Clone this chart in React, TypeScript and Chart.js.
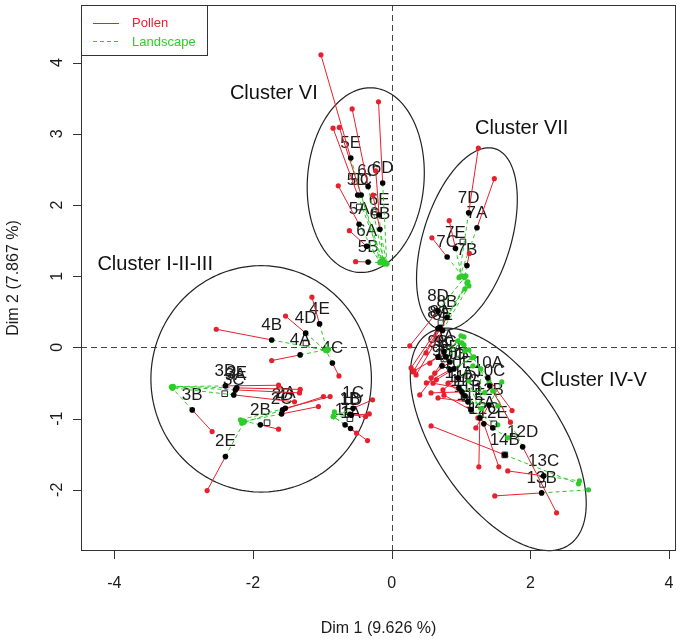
import { useEffect, useRef } from 'react';
import { Chart, registerables } from 'chart.js';

Chart.register(...registerables);

// ---------- data ----------
const individuals = [
  '1A', '1B', '1C', '1D', '1E',
  '2A', '2B', '2C', '2D', '2E',
  '3A', '3B', '3C', '3D', '3E',
  '4A', '4B', '4C', '4D', '4E',
  '5A', '5B', '5C', '5D', '5E',
  '6A', '6B', '6C', '6D', '6E',
  '7A', '7B', '7C', '7D', '7E',
  '8A', '8B', '8C', '8D', '8E',
  '9A', '9B', '9C', '9D', '9E',
  '10A', '10B', '10C', '10D', '10E',
  '11A', '11B', '11C', '11D', '11E',
  '12A', '12B', '12C', '12D', '12E',
  '13B', '13C', '14B',
];

const centroidX = [
  -0.593, -0.601, -0.557, -0.582, -0.672,
  -1.534, -1.894, -1.588, -1.573, -2.397,
  -2.253, -2.876, -2.277, -2.397, -2.234,
  -1.32, -1.73, -0.855, -1.24, -1.04,
  -0.47, -0.34, -0.44, -0.49, -0.59,
  -0.36, -0.17, -0.34, -0.13, -0.18,
  1.23, 1.085, 0.8, 1.11, 0.92,
  0.697, 0.797, 0.668, 0.668, 0.733,
  0.754, 0.668, 0.783, 0.841, 0.726,
  1.387, 0.898, 1.415, 0.841, 0.955,
  0.97, 1.099, 1.056, 1.013, 1.142,
  1.272, 1.401, 1.329, 1.889, 1.458,
  2.162, 2.191, 1.631,
];
const centroidY = [
  -1.14, -0.94, -0.854, -0.954, -1.088,
  -0.854, -1.088, -0.934, -0.878, -1.534,
  -0.597, -0.878, -0.667, -0.541, -0.569,
  -0.105, 0.105, -0.22, 0.2, 0.33,
  1.73, 1.2, 2.14, 2.14, 2.66,
  1.42, 1.66, 2.26, 2.31, 1.86,
  1.68, 1.15, 1.27, 1.89, 1.39,
  0.281, 0.421, 0.267, 0.513, 0.239,
  -0.063, -0.133, -0.133, -0.204, -0.26,
  -0.428, -0.302, -0.541, -0.316, -0.428,
  -0.569, -0.765, -0.681, -0.625, -0.878,
  -0.99, -0.808, -1.074, -1.397, -1.131,
  -2.044, -1.805, -1.51,
];

const pollenX = [
  -0.348, -0.376, -0.276, -0.323, -0.506,
  -0.888, -1.631, -1.056, -0.984, -2.661,
  -1.329, -2.589, -1.401, -1.631, -1.319,
  -1.73, -2.53, -0.76, -1.53, -1.15,
  -0.77, -0.52, -0.755, -0.845, -1.02,
  -0.61, -0.27, -0.57, -0.19, -0.23,
  1.48, 1.12, 0.58, 1.25, 0.83,
  0.309, 0.496, 0.28, 0.261, 0.352,
  0.549, 0.323, 0.568, 0.621, 0.405,
  1.736, 0.644, 1.713, 0.5, 0.74,
  0.596, 0.668, 0.812, 0.568, 0.754,
  1.257, 1.214, 1.545, 2.378, 1.243,
  1.487, 1.674, 0.568,
];
const pollenY = [
  -1.309, -0.972, -0.737, -0.934, -1.205,
  -0.691, -1.149, -0.831, -0.691, -2.011,
  -0.639, -1.183, -0.765, -0.531, -0.59,
  -0.185, 0.255, -0.4, 0.44, 0.705,
  2.27, 1.205, 3.09, 3.08, 4.11,
  1.64, 2.14, 3.35, 3.45, 2.48,
  2.37, 1.32, 1.54, 2.8, 1.78,
  -0.344, -0.077, -0.288, 0.021, -0.386,
  -0.222, -0.33, -0.428, -0.362, -0.667,
  -0.888, -0.456, -1.051, -0.499, -0.597,
  -0.503, -0.709, -0.503, -0.639, -0.671,
  -1.678, -1.131, -1.678, -2.324, -0.99,
  -2.086, -1.735, -1.103,
];

const landscapeX = [
  -0.841, -0.826, -0.841, -0.841, -0.841,
  -2.181, -2.158, -2.119, -2.162, -2.134,
  -3.177, -3.164, -3.154, -3.164, -3.149,
  -0.91, -0.93, -0.95, -0.95, -0.93,
  -0.17, -0.16, -0.125, -0.135, -0.165,
  -0.11, -0.07, -0.11, -0.07, -0.13,
  0.98, 1.05, 1.02, 0.97, 1.01,
  1.085, 1.099, 1.056, 1.07, 1.114,
  0.955, 1.013, 0.999, 1.056, 1.042,
  1.042, 1.157, 1.114, 1.185, 1.171,
  1.343, 1.53, 1.3, 1.458, 1.53,
  1.286, 1.588, 1.114, 1.401, 1.674,
  2.838, 2.708, 2.694,
];
const landscapeY = [
  -0.972, -0.906, -0.972, -0.972, -0.972,
  -1.018, -1.028, -1.037, -1.065, -1.056,
  -0.555, -0.573, -0.569, -0.551, -0.548,
  -0.025, -0.045, -0.04, -0.045, -0.045,
  1.19, 1.19, 1.19, 1.2, 1.205,
  1.2, 1.18, 1.17, 1.17, 1.24,
  0.99, 0.98, 1.0, 0.98, 1.0,
  0.906, 0.92, 0.822, 1.004, 0.864,
  0.091, 0.063, 0.162, -0.049, 0.147,
  0.035, -0.147, -0.035, -0.133, -0.26,
  -0.635, -0.822, -0.86, -0.611, -1.088,
  -0.302, -0.485, -0.471, -0.471, -1.271,
  -2.001, -1.875, -1.917,
];

// site means (open squares)
const siteMeanX = [-0.602, -1.797, -2.407, -1.236, -0.467, -0.237, 1.027, 0.711, 0.754, 1.099, 1.056, 1.473, 2.177, 1.631];
const siteMeanY = [-1.001, -1.058, -0.65, 0.063, 1.973, 1.903, 1.482, 0.344, -0.162, -0.4, -0.709, -1.074, -1.924, -1.51];

// cluster ellipses: centre, semi-axes, angle (degrees) in data units
const clusterNames = ['Cluster VI', 'Cluster VII', 'Cluster I-II-III', 'Cluster IV-V'];
const clusterCx = [-0.374, 1.085, -1.882, 1.537];
const clusterCy = [2.35, 1.524, -0.442, -1.292];
const clusterA = [1.3, 1.33, 1.59, 1.8];
const clusterB = [0.84, 0.63, 1.59, 0.9];
const clusterAngle = [85, 72, 0, -55];
const clusterLabelX = [-1.7, 1.875, -3.41, 2.91];
const clusterLabelY = [3.57, 3.08, 1.17, -0.47];

const xTicks = [-4, -2, 0, 2, 4];
const yTicks = [-2, -1, 0, 1, 2, 3, 4];
const xTitle = 'Dim 1 (9.626 %)';
const yTitle = 'Dim 2 (7.867 %)';
const legendLabels = ['Pollen', 'Landscape'];

// ---------- styles ----------
const RED = '#E8202E';
const GREEN = '#2ECC2A';
const FONT = '"Liberation Sans", Arial, Helvetica, sans-serif';
const TEXT = '#1a1a1a';

function segments(ax: number[], ay: number[], bx: number[], by: number[]) {
  const out: any[] = [];
  for (let i = 0; i < ax.length; i++) {
    out.push({ x: ax[i], y: ay[i] }, { x: bx[i], y: by[i] }, { x: null, y: null });
  }
  return out;
}
function pts(ax: number[], ay: number[]) {
  return ax.map((v, i) => ({ x: v, y: ay[i] }));
}

const decorPlugin = {
  id: 'decor',
  beforeDatasetsDraw(chart: any) {
    const { ctx, chartArea: a, scales } = chart;
    const xs = scales.x;
    const ys = scales.y;
    ctx.save();
    // zero lines
    ctx.strokeStyle = '#444';
    ctx.lineWidth = 1;
    ctx.setLineDash([6, 4]);
    const x0 = Math.round(xs.getPixelForValue(0)) + 0.5;
    const y0 = Math.round(ys.getPixelForValue(0)) + 0.5;
    ctx.beginPath();
    ctx.moveTo(x0, a.top);
    ctx.lineTo(x0, a.bottom);
    ctx.moveTo(a.left, y0);
    ctx.lineTo(a.right, y0);
    ctx.stroke();
    ctx.setLineDash([]);

    // ellipses
    ctx.strokeStyle = '#222';
    ctx.lineWidth = 1.2;
    for (let k = 0; k < clusterCx.length; k++) {
      const phi = (clusterAngle[k] * Math.PI) / 180;
      ctx.beginPath();
      for (let s = 0; s <= 180; s++) {
        const t = (s / 180) * Math.PI * 2;
        const ex = clusterCx[k] + clusterA[k] * Math.cos(t) * Math.cos(phi) - clusterB[k] * Math.sin(t) * Math.sin(phi);
        const ey = clusterCy[k] + clusterA[k] * Math.cos(t) * Math.sin(phi) + clusterB[k] * Math.sin(t) * Math.cos(phi);
        const px = xs.getPixelForValue(ex);
        const py = ys.getPixelForValue(ey);
        if (s === 0) ctx.moveTo(px, py);
        else ctx.lineTo(px, py);
      }
      ctx.closePath();
      ctx.stroke();
    }

    // cluster labels
    ctx.fillStyle = '#111';
    ctx.font = `20px ${FONT}`;
    ctx.textAlign = 'center';
    ctx.textBaseline = 'middle';
    for (let k = 0; k < clusterNames.length; k++) {
      ctx.fillText(clusterNames[k], xs.getPixelForValue(clusterLabelX[k]), ys.getPixelForValue(clusterLabelY[k]));
    }

    // individual labels
    ctx.fillStyle = TEXT;
    ctx.font = `17px ${FONT}`;
    for (let i = 0; i < individuals.length; i++) {
      ctx.fillText(individuals[i], xs.getPixelForValue(centroidX[i]), ys.getPixelForValue(centroidY[i]) - 15);
    }
    ctx.restore();
  },
  afterDraw(chart: any) {
    const { ctx, chartArea: a, scales } = chart;
    const xs = scales.x;
    const ys = scales.y;
    ctx.save();
    ctx.strokeStyle = '#333';
    ctx.lineWidth = 1;
    ctx.strokeRect(a.left + 0.5, a.top + 0.5, a.right - a.left - 1, a.bottom - a.top - 1);

    // ticks
    ctx.beginPath();
    xTicks.forEach((v) => {
      const px = Math.round(xs.getPixelForValue(v)) + 0.5;
      ctx.moveTo(px, a.bottom);
      ctx.lineTo(px, a.bottom + 8);
    });
    yTicks.forEach((v) => {
      const py = Math.round(ys.getPixelForValue(v)) + 0.5;
      ctx.moveTo(a.left, py);
      ctx.lineTo(a.left - 8, py);
    });
    ctx.stroke();

    ctx.fillStyle = TEXT;
    ctx.font = `16px ${FONT}`;
    ctx.textAlign = 'center';
    ctx.textBaseline = 'middle';
    xTicks.forEach((v) => {
      ctx.fillText(String(v), xs.getPixelForValue(v), a.bottom + 33);
    });
    yTicks.forEach((v) => {
      ctx.save();
      ctx.translate(a.left - 23, ys.getPixelForValue(v));
      ctx.rotate(-Math.PI / 2);
      ctx.fillText(String(v), 0, 0);
      ctx.restore();
    });
    ctx.fillText(xTitle, (a.left + a.right) / 2, 629);
    ctx.save();
    ctx.translate(14, (a.top + a.bottom) / 2);
    ctx.rotate(-Math.PI / 2);
    ctx.fillText(yTitle, 0, 0);
    ctx.restore();

    // legend
    const lx = a.left;
    const ly = a.top;
    ctx.fillStyle = '#fff';
    ctx.fillRect(lx + 0.5, ly + 0.5, 126, 50);
    ctx.strokeStyle = '#333';
    ctx.strokeRect(lx + 0.5, ly + 0.5, 126, 50);
    ctx.lineWidth = 1;
    ctx.strokeStyle = RED;
    ctx.beginPath();
    ctx.moveTo(lx + 12, ly + 18.5);
    ctx.lineTo(lx + 38, ly + 18.5);
    ctx.stroke();
    ctx.strokeStyle = GREEN;
    ctx.setLineDash([4, 3]);
    ctx.beginPath();
    ctx.moveTo(lx + 12, ly + 36.5);
    ctx.lineTo(lx + 38, ly + 36.5);
    ctx.stroke();
    ctx.setLineDash([]);
    ctx.font = `13px ${FONT}`;
    ctx.textAlign = 'left';
    ctx.fillStyle = RED;
    ctx.fillText(legendLabels[0], lx + 51, ly + 18);
    ctx.fillStyle = GREEN;
    ctx.fillText(legendLabels[1], lx + 51, ly + 37);
    ctx.restore();
  },
};

export default function App() {
  const ref = useRef<HTMLCanvasElement>(null);
  useEffect(() => {
    if (!ref.current) return;
    const chart = new Chart(ref.current, {
      type: 'scatter',
      data: {
        datasets: [
          {
            label: 'Individuals',
            data: pts(centroidX, centroidY),
            pointRadius: 2.8,
            pointBackgroundColor: '#000',
            pointBorderWidth: 0,
            showLine: false,
          },
          {
            label: 'Sites',
            data: pts(siteMeanX, siteMeanY),
            pointStyle: 'rect',
            pointRadius: 4,
            pointBackgroundColor: 'rgba(0,0,0,0)',
            pointBorderColor: '#222',
            pointBorderWidth: 1,
            showLine: false,
          },
          {
            label: legendLabels[0] + ' points',
            data: pts(pollenX, pollenY),
            pointRadius: 2.6,
            pointBackgroundColor: RED,
            pointBorderWidth: 0,
            showLine: false,
          },
          {
            label: legendLabels[1] + ' points',
            data: pts(landscapeX, landscapeY),
            pointRadius: 2.6,
            pointBackgroundColor: GREEN,
            pointBorderWidth: 0,
            showLine: false,
          },
          {
            label: legendLabels[0],
            data: segments(centroidX, centroidY, pollenX, pollenY),
            showLine: true,
            spanGaps: false,
            borderColor: RED,
            borderWidth: 1,
            pointRadius: 0,
          },
          {
            label: legendLabels[1],
            data: segments(centroidX, centroidY, landscapeX, landscapeY),
            showLine: true,
            spanGaps: false,
            borderColor: GREEN,
            borderWidth: 1,
            borderDash: [4, 3],
            pointRadius: 0,
          },
        ],
      },
      options: {
        responsive: false,
        maintainAspectRatio: false,
        devicePixelRatio: 1,
        animation: false,
        events: [],
        layout: { padding: { left: 81, top: 5, right: 2, bottom: 90 } },
        plugins: { legend: { display: false }, tooltip: { enabled: false } },
        scales: {
          x: { type: 'linear', display: false, min: -4.48, max: 4.1 },
          y: { type: 'linear', display: false, min: -2.86, max: 4.81 },
        },
      },
      plugins: [decorPlugin],
    } as any);
    return () => chart.destroy();
  }, []);
  return (
    <div style={{ position: 'fixed', left: 0, top: 0, width: 681, height: 641, background: '#fff' }}>
      <canvas ref={ref} width={681} height={641} style={{ display: 'block', width: 681, height: 641 }} />
    </div>
  );
}
